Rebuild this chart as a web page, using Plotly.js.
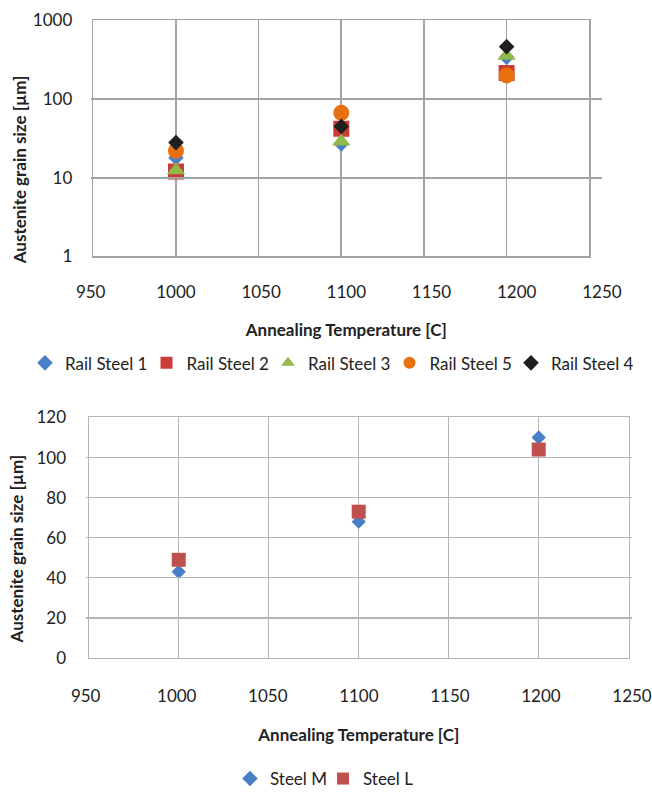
<!DOCTYPE html>
<html>
<head>
<meta charset="utf-8">
<script src="https://cdn.plot.ly/plotly-3.0.1.min.js"></script>
<style>html,body{margin:0;padding:0;background:#fff;}#chart{width:652px;height:797px;}</style>
</head>
<body>
<div id="chart"></div>
<script>
// ---- data ----
const temps = [1000, 1100, 1200];
const railSteel1 = [18, 27, 340];
const railSteel2 = [12, 42, 215];
const railSteel3 = [12.5, 29, 355];
const railSteel5 = [22, 67, 200];
const railSteel4 = [28, 45, 465];
const steelM = [43, 68, 110];
const steelL = [49, 73, 104];
const logTickVals = [1, 10, 100, 1000];
const logTickText = ['1', '10', '100', '1000'];
const tempRange = [950, 1250];
const linRange = [0, 120];
const xTitle = 'Annealing Temperature [C]';
const yTitle = 'Austenite grain size [µm]';

const W = 652, H = 797;
const px = v => v / W;
const py = v => 1 - v / H;

const FONT = 'Lato, "Open Sans", sans-serif';
const TXT = '#222222';

function tr(name, x, y, symbol, color, size, xa, ya, legend) {
  return {
    type: 'scatter', mode: 'markers', name: name, x: x, y: y,
    xaxis: xa, yaxis: ya, legend: legend,
    marker: {symbol: symbol, color: color, size: size, line: {width: 0}},
    cliponaxis: false, hoverinfo: 'x+y+name'
  };
}

const data = [
  tr('Rail Steel 1', temps, railSteel1, 'diamond', '#4A7FC7', 12, 'x', 'y', 'legend'),
  tr('Rail Steel 2', temps, railSteel2, 'square', '#CC3B36', 16, 'x', 'y', 'legend'),
  tr('Rail Steel 3', temps, railSteel3, 'triangle-up', '#91B84B', 16, 'x', 'y', 'legend'),
  tr('Rail Steel 5', temps, railSteel5, 'circle', '#E8700F', 16, 'x', 'y', 'legend'),
  tr('Rail Steel 4', temps, railSteel4, 'diamond', '#1F1F1F', 12, 'x', 'y', 'legend'),
  tr('Steel M', temps, steelM, 'diamond', '#4A7FC7', 11, 'x2', 'y2', 'legend2'),
  tr('Steel L', temps, steelL, 'square', '#C0504D', 14, 'x2', 'y2', 'legend2'),
  // empty carriers for the tick-label axes
  {type: 'scatter', x: [], y: [], xaxis: 'x3', yaxis: 'y', showlegend: false, hoverinfo: 'skip'},
  {type: 'scatter', x: [], y: [], xaxis: 'x4', yaxis: 'y2', showlegend: false, hoverinfo: 'skip'}
];

const gridTop = '#A3A3A3';
const gridBot = '#B5B5B5';

const layout = {
  width: W, height: H,
  margin: {l: 0, r: 0, t: 0, b: 0},
  paper_bgcolor: '#fff', plot_bgcolor: 'rgba(0,0,0,0)',
  font: {family: FONT, size: 17, color: TXT},
  showlegend: true,
  xaxis: {
    domain: [px(93.3), px(589.3)], anchor: 'y', range: tempRange,
    tick0: 950, dtick: 50, showticklabels: false, ticks: '',
    showgrid: true, gridcolor: gridTop, gridwidth: 1.6,
    showline: true, mirror: true, linecolor: gridTop, linewidth: 1.6, zeroline: false
  },
  yaxis: {
    domain: [py(259), py(20.7)], anchor: 'x', type: 'log', range: [0, 3],
    tickvals: logTickVals, ticktext: logTickText, ticks: '', ticklabelstandoff: 16,
    showgrid: true, gridcolor: gridTop, gridwidth: 1.6,
    showline: true, mirror: true, linecolor: gridTop, linewidth: 1.6, zeroline: false,
    tickfont: {size: 17, color: TXT}
  },
  xaxis3: {
    domain: [px(90.7), px(601.9)], anchor: 'y', range: tempRange,
    tick0: 950, dtick: 50, ticks: '', showgrid: false, showline: false, zeroline: false,
    ticklabelstandoff: 24, tickfont: {size: 17, color: TXT},
    title: {text: xTitle, font: {size: 17, color: TXT, weight: 'bold'}, standoff: 22}
  },
  xaxis2: {
    domain: [px(88.7), px(628.7)], anchor: 'y2', range: tempRange,
    tick0: 950, dtick: 50, showticklabels: false, ticks: '',
    showgrid: true, gridcolor: gridBot, gridwidth: 1.2,
    showline: true, mirror: true, linecolor: gridBot, linewidth: 1.2, zeroline: false
  },
  yaxis2: {
    domain: [py(664.7), py(421.7)], anchor: 'x2', range: linRange,
    tick0: 0, dtick: 20, ticks: '', ticklabelstandoff: 18,
    showgrid: true, gridcolor: gridBot, gridwidth: 1.2,
    showline: true, mirror: true, linecolor: gridBot, linewidth: 1.2, zeroline: false,
    tickfont: {size: 17, color: TXT}
  },
  xaxis4: {
    domain: [px(85.7), px(632)], anchor: 'y2', range: tempRange,
    tick0: 950, dtick: 50, ticks: '', showgrid: false, showline: false, zeroline: false,
    ticklabelstandoff: 26, tickfont: {size: 17, color: TXT},
    title: {text: xTitle, font: {size: 17, color: TXT, weight: 'bold'}, standoff: 24}
  },
  legend: {
    orientation: 'h', x: px(25), y: py(367), xanchor: 'left', yanchor: 'middle',
    font: {size: 17, color: TXT}, bgcolor: 'rgba(0,0,0,0)', entrywidth: 76.5,
    itemwidth: 30, itemsizing: 'constant', traceorder: 'normal'
  },
  legend2: {
    orientation: 'h', x: px(230), y: py(787), xanchor: 'left', yanchor: 'middle',
    font: {size: 17, color: TXT}, bgcolor: 'rgba(0,0,0,0)', entrywidth: 48,
    itemwidth: 30, itemsizing: 'constant', traceorder: 'normal'
  },
  annotations: [
    {text: yTitle, xref: 'paper', yref: 'paper', x: px(19), y: py(172),
     showarrow: false, textangle: -90, xanchor: 'center', yanchor: 'middle',
     font: {size: 17, color: TXT, weight: 'bold'}},
    {text: yTitle, xref: 'paper', yref: 'paper', x: px(16), y: py(555),
     showarrow: false, textangle: -90, xanchor: 'center', yanchor: 'middle',
     font: {size: 17, color: TXT, weight: 'bold'}}
  ]
};

Plotly.newPlot('chart', data, layout, {staticPlot: true, displayModeBar: false});
</script>
</body>
</html>
